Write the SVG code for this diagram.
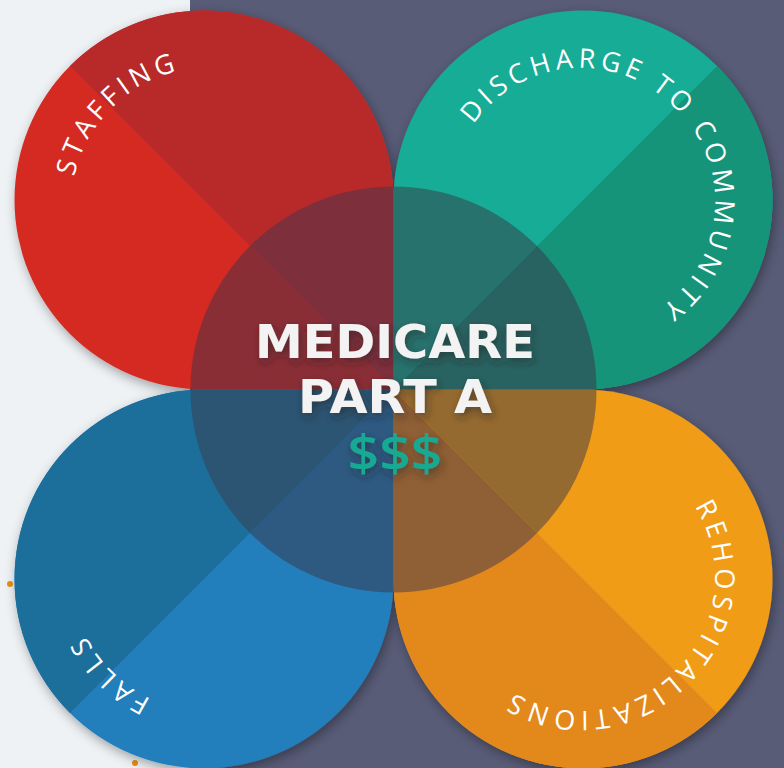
<svg xmlns="http://www.w3.org/2000/svg" width="784" height="768" viewBox="0 0 784 768">
<defs>
<style>
.lbl{font-family:"Open Sans","Noto Sans","DejaVu Sans",sans-serif;font-weight:400;font-size:27px;letter-spacing:4.6px;fill:#ffffff;}
.big{font-family:"DejaVu Sans","Open Sans","Liberation Sans",sans-serif;font-weight:700;fill:#f3f3f3;}
.cash{font-family:"Open Sans","Noto Sans","Liberation Sans",sans-serif;font-weight:600;fill:#17a993;}
</style>
<filter id="sh" x="-10%" y="-10%" width="125%" height="125%">
<feDropShadow dx="2" dy="4" stdDeviation="6" flood-color="#000" flood-opacity="0.35"/>
</filter>
<filter id="tsh" x="-20%" y="-30%" width="140%" height="170%">
<feDropShadow dx="2" dy="4" stdDeviation="4" flood-color="#1a1a1a" flood-opacity="0.5"/>
</filter>
<path id="pRed" d="M295.9,291.9 A130,130 0 1 1 112.1,108.1 A130,130 0 1 1 295.9,291.9"/>
<path id="pTeal" d="M491.1,291.9 A130,130 0 1 1 674.9,108.1 A130,130 0 1 1 491.1,291.9"/>
<path id="pBlue" d="M295.9,487.1 A130,130 0 1 1 112.1,670.9 A130,130 0 1 1 295.9,487.1"/>
<path id="pOrange" d="M491.1,487.1 A130,130 0 1 1 674.9,670.9 A130,130 0 1 1 491.1,487.1"/>
</defs>

<rect x="0" y="0" width="784" height="768" fill="#585c77"/>
<rect x="0" y="0" width="190" height="768" fill="#eef2f5"/>
<circle cx="10" cy="584" r="3" fill="#e88f12"/>
<circle cx="135" cy="763" r="3" fill="#e88f12"/>

<g filter="url(#sh)">
<g id="staffing">
<path d="M393.5,200 A189.5,189.5 0 0 0 204,10.5 A189.5,189.5 0 0 0 14.5,200 A189.5,189.5 0 0 0 204,389.5 L393.5,389.5 Z" fill="#d42a22"/>
<path d="M70,66 A189.5,189.5 0 0 1 204,10.5 A189.5,189.5 0 0 1 393.5,200 L393.5,389.5 Z" fill="#b82a2c"/>
</g>
<g id="discharge">
<path d="M583,10.5 A189.5,189.5 0 0 1 772.5,200 A189.5,189.5 0 0 1 583,389.5 L393.5,389.5 L393.5,200 A189.5,189.5 0 0 1 583,10.5 Z" fill="#16ac96"/>
<path d="M717,66 A189.5,189.5 0 0 1 772.5,200 A189.5,189.5 0 0 1 583,389.5 L393.5,389.5 Z" fill="#139479"/>
</g>
<g id="falls">
<path d="M393.5,389.5 L393.5,579 A189.5,189.5 0 0 1 204,768.5 A189.5,189.5 0 0 1 14.5,579 A189.5,189.5 0 0 1 204,389.5 Z" fill="#247fbb"/>
<path d="M70,713 A189.5,189.5 0 0 1 14.5,579 A189.5,189.5 0 0 1 204,389.5 L393.5,389.5 Z" fill="#1f6e9b"/>
</g>
<g id="rehospitalizations">
<path d="M393.5,389.5 L583,389.5 A189.5,189.5 0 0 1 772.5,579 A189.5,189.5 0 0 1 583,768.5 A189.5,189.5 0 0 1 393.5,579 Z" fill="#f09c18"/>
<path d="M717,713 A189.5,189.5 0 0 1 583,768.5 A189.5,189.5 0 0 1 393.5,579 L393.5,389.5 Z" fill="#e3891e"/>
</g>
</g>

<g id="medicare-part-a">
<path d="M393.5,389.5 L596.5,389.5 A203,203 0 0 1 537,533 Z" fill="#956a30"/>
<path d="M393.5,389.5 L537,533 A203,203 0 0 1 393.5,592.5 Z" fill="#8f5f35"/>
<path d="M393.5,389.5 L393.5,592.5 A203,203 0 0 1 250,533 Z" fill="#2e5a82"/>
<path d="M393.5,389.5 L250,533 A203,203 0 0 1 190.5,389.5 Z" fill="#2c5573"/>
<path d="M393.5,389.5 L190.5,389.5 A203,203 0 0 1 250,246 Z" fill="#8a2e36"/>
<path d="M393.5,389.5 L250,246 A203,203 0 0 1 393.5,186.5 Z" fill="#7d2f3c"/>
<path d="M393.5,389.5 L393.5,186.5 A203,203 0 0 1 537,246 Z" fill="#28726e"/>
<path d="M393.5,389.5 L537,246 A203,203 0 0 1 596.5,389.5 Z" fill="#296361"/>
<g filter="url(#tsh)">
<text class="big" x="395" y="358" font-size="47" text-anchor="middle" textLength="280" lengthAdjust="spacingAndGlyphs">MEDICARE</text>
<text class="big" x="395" y="413" font-size="47" text-anchor="middle" textLength="194" lengthAdjust="spacingAndGlyphs">PART A</text>
<text class="cash" x="395" y="471" font-size="50" text-anchor="middle" textLength="95" lengthAdjust="spacingAndGlyphs">$$$</text>
</g>
</g>

<g id="labels">
<text class="lbl"><textPath href="#pRed" startOffset="50%" text-anchor="middle">STAFFING</textPath></text>
<text class="lbl"><textPath href="#pTeal" startOffset="50%" text-anchor="middle">DISCHARGE TO COMMUNITY</textPath></text>
<text class="lbl"><textPath href="#pBlue" startOffset="50%" text-anchor="middle">FALLS</textPath></text>
<text class="lbl"><textPath href="#pOrange" startOffset="50%" text-anchor="middle">REHOSPITALIZATIONS</textPath></text>
</g>
</svg>
